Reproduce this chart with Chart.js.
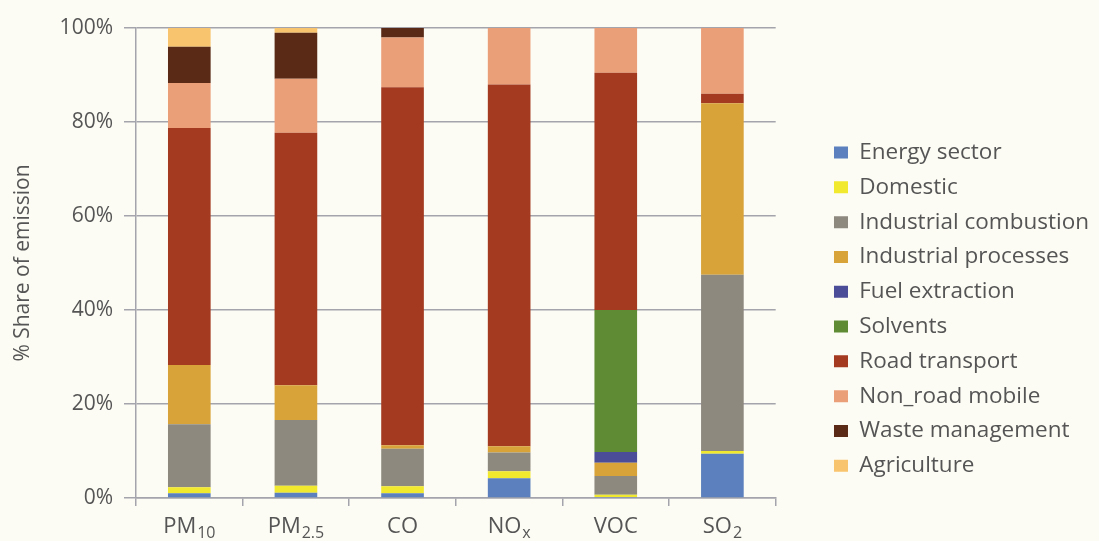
<!DOCTYPE html>
<html>
<head>
<meta charset="utf-8">
<script src="https://cdn.jsdelivr.net/npm/chart.js@4"></script>
<style>
  html, body { margin: 0; padding: 0; background: #fdfcf4; }
  #wrap { width: 1099px; height: 541px; }
</style>
</head>
<body>
<div id="wrap"><canvas id="myChart" width="1099" height="541"></canvas></div>
<script>
"use strict";
// pollutants along the x axis (name + subscript part)
var pollutantMain = ["PM", "PM", "CO", "NO", "VOC", "SO"];
var pollutantSub = ["10", "2.5", "", "x", "", "2"];
var yTicks = ["0%", "20%", "40%", "60%", "80%", "100%"];

// share of emission (%) per source
var energySector      = [1.0, 1.1, 1.0, 4.2, 0.2, 9.4];
var domestic          = [1.3, 1.5, 1.5, 1.5, 0.5, 0.6];
var industrialComb    = [13.4, 14.0, 8.0, 4.0, 4.0, 37.5];
var industrialProc    = [12.6, 7.4, 0.7, 1.3, 2.8, 36.5];
var fuelExtraction    = [0, 0, 0, 0, 2.3, 0];
var solvents          = [0, 0, 0, 0, 30.2, 0];
var roadTransport     = [50.4, 53.7, 76.2, 77.0, 50.5, 2.0];
var nonRoadMobile     = [9.6, 11.5, 10.6, 12.0, 9.5, 14.0];
var wasteManagement   = [7.7, 9.8, 2.0, 0, 0, 0];
var agriculture       = [4.0, 1.0, 0, 0, 0, 0];

var sources = [
  ["Energy sector", energySector, "#5b80bd"],
  ["Domestic", domestic, "#f0e92e"],
  ["Industrial combustion", industrialComb, "#8d897f"],
  ["Industrial processes", industrialProc, "#d8a43a"],
  ["Fuel extraction", fuelExtraction, "#4b4d98"],
  ["Solvents", solvents, "#5e8b34"],
  ["Road transport", roadTransport, "#a43a20"],
  ["Non_road mobile", nonRoadMobile, "#eb9f79"],
  ["Waste management", wasteManagement, "#5a2a17"],
  ["Agriculture", agriculture, "#f8c46d"]
];

var textColor = "#555555";
var gridColor = "#a3a4ac";
var font = "'Open Sans', 'Noto Sans', sans-serif";

// x labels with real subscripts (PM10, NOx ...)
var subLabels = {
  id: "subLabels",
  afterDraw: function (chart) {
    var c = chart.ctx;
    var xs = chart.scales.x;
    var base = chart.chartArea.bottom + 35;
    c.save();
    c.fillStyle = textColor;
    c.textBaseline = "alphabetic";
    c.textAlign = "left";
    for (var i = 0; i < pollutantMain.length; i++) {
      c.font = "22px " + font;
      var w1 = c.measureText(pollutantMain[i]).width;
      c.font = "16px " + font;
      var w2 = pollutantSub[i] ? c.measureText(pollutantSub[i]).width + 1 : 0;
      var x0 = xs.getPixelForValue(i) - (w1 + w2) / 2;
      c.font = "22px " + font;
      c.fillText(pollutantMain[i], x0, base);
      if (w2) {
        c.font = "16px " + font;
        c.fillText(pollutantSub[i], x0 + w1 + 1, base + 5);
      }
    }
    c.restore();
  }
};

function buildChart() {
  var ctx = document.getElementById("myChart");
  var datasets = sources.map(function (s) {
    return {
      label: s[0],
      data: s[1],
      backgroundColor: s[2],
      borderWidth: 0,
      barPercentage: 0.4,
      categoryPercentage: 1.0
    };
  });
  return new Chart(ctx, {
    type: "bar",
    data: {
      labels: pollutantMain.map(function (m, i) { return m + pollutantSub[i]; }),
      datasets: datasets
    },
    plugins: [subLabels],
    options: {
      responsive: false,
      animation: false,
      layout: { padding: { top: 28, right: 0, bottom: 0, left: 0 } },
      plugins: {
        tooltip: { enabled: false },
        legend: {
          position: "right",
          align: "start",
          // empty title only pushes the list down to where it sits in the picture
          title: { display: true, text: "", font: { size: 20 }, padding: { top: 77, bottom: 0 } },
          labels: {
            color: textColor,
            font: { family: font, size: 22.5 },
            boxWidth: 14,
            boxHeight: 12,
            padding: 12.3
          }
        }
      },
      scales: {
        x: {
          stacked: true,
          grid: { drawOnChartArea: false, tickLength: 8, color: gridColor, lineWidth: 1.5 },
          border: { color: gridColor, width: 1.5 },
          ticks: { display: false },
          afterFit: function (s) { s.height = 43; }
        },
        y: {
          stacked: true,
          min: 0,
          max: 100,
          grid: { color: gridColor, lineWidth: 1.5, tickLength: 12 },
          border: { color: gridColor, width: 1.5 },
          ticks: {
            stepSize: 20,
            color: textColor,
            font: { family: font, size: 21 },
            padding: 11,
            callback: function (v) { return yTicks[v / 20]; }
          },
          title: {
            display: true,
            text: "% Share of emission",
            color: textColor,
            font: { family: font, size: 21 },
            padding: { top: 10, bottom: 0 }
          },
          afterFit: function (s) { s.width = 136; }
        },
        y2: {
          position: "right",
          display: true,
          min: 0,
          max: 100,
          grid: { display: false },
          border: { display: false },
          ticks: { display: false },
          afterFit: function (s) { s.width = 46; }
        }
      }
    }
  });
}

var chart = buildChart();
// the layout caps a side legend's width; let it take what its labels need
var legendFit = chart.legend.fit;
chart.legend.fit = function () {
  this.maxWidth = 400;
  legendFit.call(this);
};
chart.update();
</script>
</body>
</html>
